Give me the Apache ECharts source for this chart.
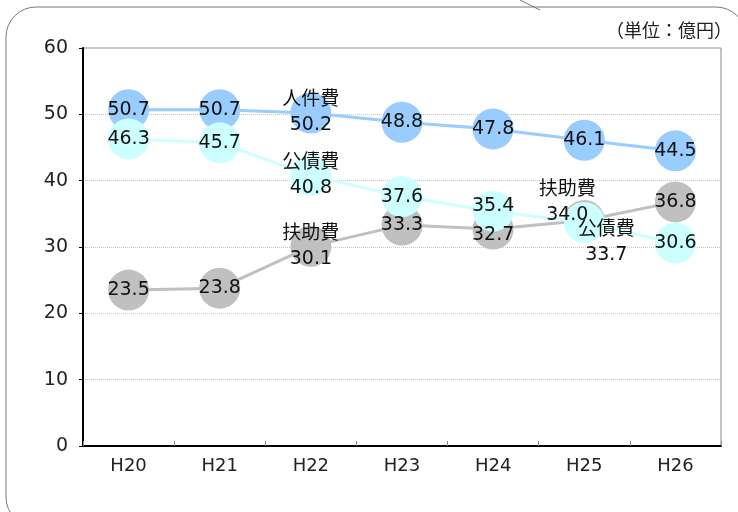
<!DOCTYPE html>
<html>
<head>
<meta charset="utf-8">
<script src="https://cdn.jsdelivr.net/npm/echarts@6/dist/echarts.min.js"></script>
<style>
html,body{margin:0;padding:0;background:#fff;}
#c{width:738px;height:512px;}
</style>
</head>
<body>
<div id="c"></div>
<script>
const categories = ['H20','H21','H22','H23','H24','H25','H26'];
const jinkenhi = [50.7, 50.7, 50.2, 48.8, 47.8, 46.1, 44.5];
const fujohi   = [23.5, 23.8, 30.1, 33.3, 32.7, 34.0, 36.8];
const kousaihi = [46.3, 45.7, 40.8, 37.6, 35.4, 33.7, 30.6];
const yTicks = [0, 10, 20, 30, 40, 50, 60];
const unitText = '（単位：億円）';

const FONT = '"DejaVu Sans", "Noto Sans CJK JP", sans-serif';

function buildData(values, name, nameIdx, offsets) {
  return values.map((v, i) => {
    const item = { value: v };
    const lab = {};
    if (nameIdx.indexOf(i) >= 0) {
      lab.formatter = name + '\n' + v.toFixed(1);
    }
    if (offsets[i]) lab.offset = offsets[i];
    if (Object.keys(lab).length) item.label = lab;
    return item;
  });
}

function mkSeries(name, values, color, lineColor, nameIdx, offsets) {
  return {
    name: name,
    type: 'line',
    data: buildData(values, name, nameIdx, offsets),
    symbol: 'circle',
    symbolSize: 41,
    showAllSymbol: true,
    lineStyle: { color: lineColor, width: 3 },
    itemStyle: { color: color, borderWidth: 0 },
    label: {
      show: true,
      position: 'inside',
      color: '#111',
      fontFamily: FONT,
      fontSize: 19,
      lineHeight: 25,
      formatter: p => Number(p.value).toFixed(1)
    },
    emphasis: { disabled: true },
    animation: false
  };
}

const chart = echarts.init(document.getElementById('c'), null, { renderer: 'canvas' });
chart.setOption({
  animation: false,
  grid: { left: 83, right: 17, top: 48, bottom: 66, show: true, borderColor: '#888', borderWidth: 1 },
  xAxis: {
    type: 'category',
    data: categories,
    boundaryGap: true,
    axisLine: { lineStyle: { color: '#000', width: 2 } },
    axisTick: { show: true, inside: true, length: 5, lineStyle: { color: '#888' } },
    axisLabel: { color: '#222', fontFamily: FONT, fontSize: 18, margin: 11 },
    splitLine: { show: false }
  },
  yAxis: {
    type: 'value',
    min: yTicks[0],
    max: yTicks[yTicks.length - 1],
    interval: 10,
    axisLine: { show: true, lineStyle: { color: '#000', width: 2 } },
    axisTick: { show: true, length: 4, lineStyle: { color: '#000' } },
    axisLabel: { color: '#222', fontFamily: FONT, fontSize: 19, margin: 15 },
    splitLine: { show: true, lineStyle: { color: '#c4c4c4', type: 'dotted', width: 1 } }
  },
  graphic: [
    { type: 'rect', silent: true, z: -10, shape: { x: 6, y: 7, width: 740, height: 520, r: 30 },
      style: { fill: 'none', stroke: '#777', lineWidth: 1 } },
    { type: 'line', silent: true, z: -10, shape: { x1: 520, y1: 0, x2: 540, y2: 10 },
      style: { stroke: '#777', lineWidth: 1 } },
    { type: 'text', silent: true, right: 6, top: 21,
      style: { text: unitText, fill: '#222', font: '18px "Noto Sans CJK JP", sans-serif' } }
  ],
  series: [
    mkSeries('人件費', jinkenhi, '#99CCFF', '#99CCFF', [2], {}),
    mkSeries('扶助費', fujohi, '#C0C0C0', '#C0C0C0', [2, 5], { 4: [0, 6], 5: [-17, -18] }),
    mkSeries('公債費', kousaihi, '#CCFFFF', '#CCFFFF', [2, 5], { 4: [0, -5], 5: [22, 20] })
  ]
});
</script>
</body>
</html>
